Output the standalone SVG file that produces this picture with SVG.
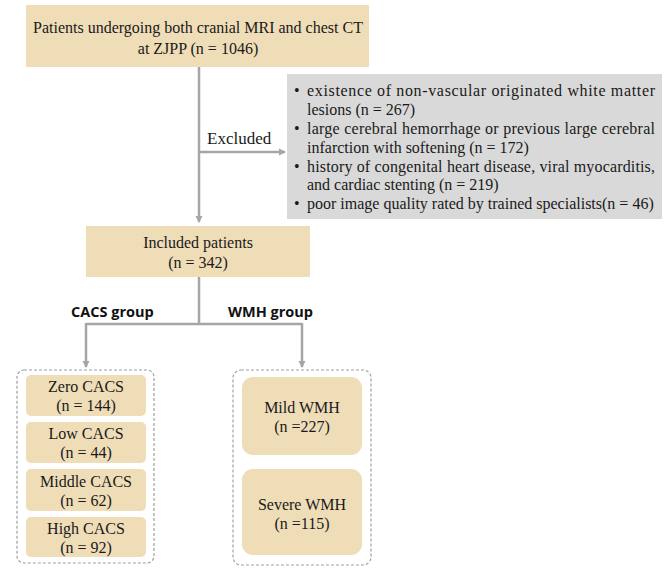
<svg xmlns="http://www.w3.org/2000/svg" width="669" height="579" viewBox="0 0 669 579">
<defs>
<marker id="arr" markerWidth="8" markerHeight="8" refX="6" refY="4" orient="auto" markerUnits="userSpaceOnUse">
<path d="M0,0.5 L7,4 L0,7.5 Z" fill="#A6A6A6"/>
</marker>
<style>
.box{fill:#EFDDB8;}
.gray{fill:#D9D9D9;}
.grp{fill:none;stroke:#A0A0A0;stroke-width:1.2;stroke-dasharray:3,2;}
.t{font-family:"Liberation Serif","Times New Roman",serif;font-size:16px;fill:#1a1a1a;}
.c{text-anchor:middle;}
.b{font-family:"Open Sans","Liberation Sans",Arial,sans-serif;font-weight:bold;font-size:14.5px;fill:#111;}
.ln{fill:none;stroke:#A6A6A6;stroke-width:2.5;}
</style>
</defs>
<rect width="669" height="579" fill="#fff"/>

<g id="connectors">
<path class="ln" d="M199,67 V222" marker-end="url(#arr)"/>
<path class="ln" d="M199,152 H285" marker-end="url(#arr)"/>
<path class="ln" d="M199,277 V324"/>
<path class="ln" d="M86,324 H302"/>
<path class="ln" d="M86,323 V367" marker-end="url(#arr)"/>
<path class="ln" d="M302,323 V367" marker-end="url(#arr)"/>
</g>

<g id="start">
<rect class="box" x="26" y="5" width="343" height="62"/>
<text class="t c" x="198" y="33">Patients undergoing both cranial MRI and chest CT</text>
<text class="t c" x="198" y="54">at ZJPP (n = 1046)</text>
</g>

<g id="excluded-label">
<text class="t" x="207" y="144" style="font-size:17px">Excluded</text>
</g>

<g id="exclusions">
<rect class="gray" x="287" y="74" width="375" height="145"/>
<text class="t" x="294" y="96">•</text>
<text class="t" x="307" y="96" textLength="348" lengthAdjust="spacing">existence of non-vascular originated white matter</text>
<text class="t" x="307" y="115">lesions (n = 267)</text>
<text class="t" x="294" y="134">•</text>
<text class="t" x="307" y="134" textLength="348" lengthAdjust="spacing">large cerebral hemorrhage or previous large cerebral</text>
<text class="t" x="307" y="153">infarction with softening (n = 172)</text>
<text class="t" x="294" y="172">•</text>
<text class="t" x="307" y="172" textLength="348" lengthAdjust="spacing">history of congenital heart disease, viral myocarditis,</text>
<text class="t" x="307" y="190">and cardiac stenting (n = 219)</text>
<text class="t" x="294" y="209">•</text>
<text class="t" x="307" y="209">poor image quality rated by trained specialists(n = 46)</text>
</g>

<g id="included">
<rect class="box" x="86" y="226" width="224" height="51"/>
<text class="t c" x="198" y="248">Included patients</text>
<text class="t c" x="198" y="268">(n = 342)</text>
</g>

<g id="group-labels">
<text class="b" x="71" y="317">CACS group</text>
<text class="b" x="228" y="317">WMH group</text>
</g>

<g id="cacs-group">
<rect class="grp" x="17" y="370" width="137" height="193" rx="7"/>
</g>
<g id="zero">
<rect class="box" x="26" y="375" width="120" height="41" rx="5"/>
<text class="t c" x="86" y="392">Zero CACS</text>
<text class="t c" x="86" y="411">(n = 144)</text>
</g>
<g id="low">
<rect class="box" x="26" y="422" width="120" height="41" rx="5"/>
<text class="t c" x="86" y="439">Low CACS</text>
<text class="t c" x="86" y="458">(n = 44)</text>
</g>
<g id="middle">
<rect class="box" x="26" y="469" width="120" height="42" rx="5"/>
<text class="t c" x="86" y="487">Middle CACS</text>
<text class="t c" x="86" y="506">(n = 62)</text>
</g>
<g id="high">
<rect class="box" x="26" y="517" width="120" height="40" rx="5"/>
<text class="t c" x="86" y="534">High CACS</text>
<text class="t c" x="86" y="553">(n = 92)</text>
</g>

<g id="wmh-group">
<rect class="grp" x="233" y="370" width="138" height="195" rx="8"/>
</g>
<g id="mild">
<rect class="box" x="242" y="377" width="120" height="78" rx="11"/>
<text class="t c" x="302" y="413">Mild WMH</text>
<text class="t c" x="302" y="432">(n =227)</text>
</g>
<g id="severe">
<rect class="box" x="242" y="469" width="120" height="86" rx="11"/>
<text class="t c" x="302" y="510">Severe WMH</text>
<text class="t c" x="302" y="529">(n =115)</text>
</g>
</svg>
